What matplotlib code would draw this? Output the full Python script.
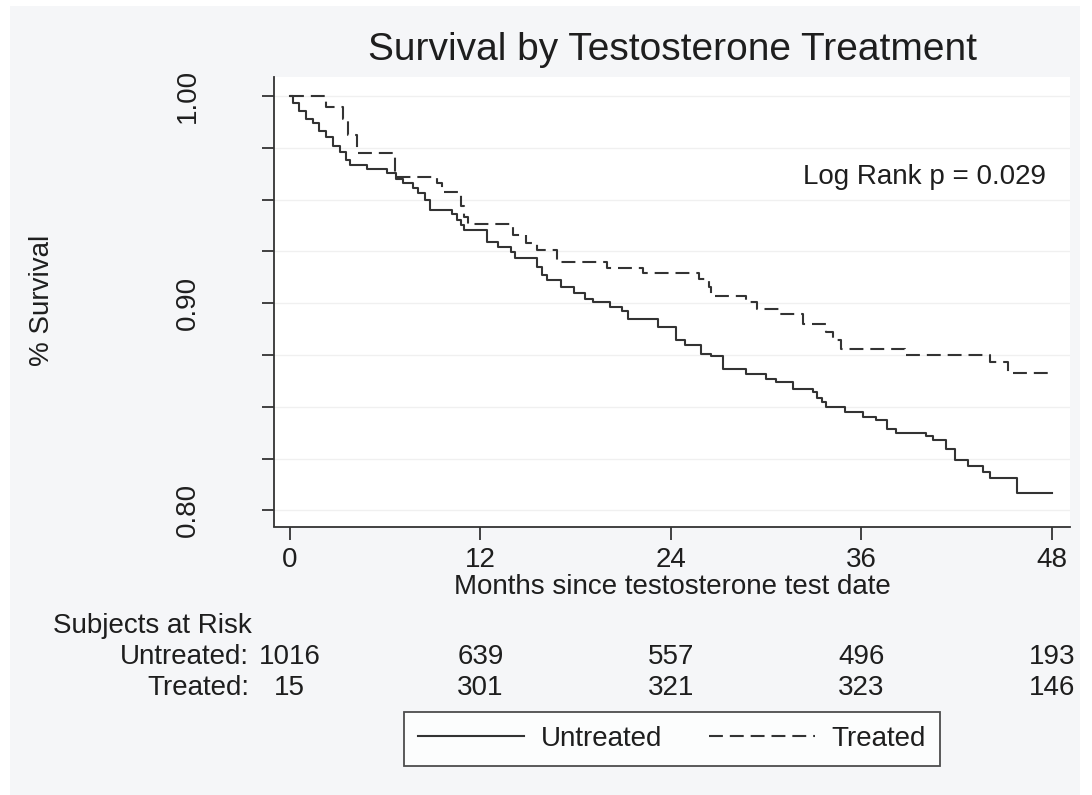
import numpy as np
import matplotlib
matplotlib.use("Agg")
import matplotlib.pyplot as plt
from matplotlib.patches import Rectangle

plt.rcParams['font.family'] = ['Liberation Sans', 'DejaVu Sans']
plt.rcParams['lines.scale_dashes'] = False

# Kaplan-Meier step data (time in months, survival after step)
untreated_t = [0, 0.2, 0.6, 1.0, 1.45, 1.85, 2.3, 2.7, 3.15, 3.55, 3.8, 4.85, 6.1, 6.7,
               7.1, 7.75, 8.05, 8.5, 8.8, 10.2, 10.5, 10.8, 11.0, 12.4, 13.1, 13.95,
               14.2, 15.6, 15.9, 16.2, 17.1, 17.9, 18.6, 19.1, 20.15, 20.9, 21.3, 23.2,
               24.35, 24.9, 25.9, 26.55, 27.3, 28.75, 30.0, 30.65, 31.7, 32.95, 33.2,
               33.5, 33.8, 34.95, 36.1, 36.95, 37.6, 38.2, 40.1, 40.5, 41.35, 41.9,
               42.75, 43.7, 44.1, 45.8, 48.0]
untreated_s = [1.0, 0.9966, 0.993, 0.989, 0.987, 0.983, 0.980, 0.976, 0.973, 0.969, 0.9667,
               0.9646, 0.9627, 0.960, 0.958, 0.9557, 0.953, 0.950, 0.945, 0.9433, 0.940,
               0.9377, 0.9353, 0.9297, 0.927, 0.9248, 0.9216, 0.9176, 0.9135, 0.911,
               0.908, 0.9047, 0.9022, 0.9005, 0.898, 0.896, 0.8926, 0.8883, 0.882, 0.880,
               0.8757, 0.8746, 0.8684, 0.8657, 0.8636, 0.862, 0.8587, 0.8572, 0.854,
               0.8524, 0.850, 0.8475, 0.845, 0.8435, 0.8394, 0.8375, 0.8357, 0.8338,
               0.8298, 0.8242, 0.8214, 0.8186, 0.8157, 0.8086, 0.8086]

treated_t = [0, 2.3, 3.35, 3.65, 4.2, 6.6, 9.25, 9.6, 10.8, 11.0, 11.2, 14.05, 14.9, 15.55,
             16.8, 20.0, 22.25, 25.8, 26.4, 26.55, 28.75, 29.4, 30.9, 32.3, 33.8, 34.2,
             34.7, 38.75, 44.1, 45.25, 48.0]
treated_s = [1.0, 0.9948, 0.989, 0.981, 0.9725, 0.961, 0.958, 0.9536, 0.947, 0.9415, 0.938,
             0.933, 0.929, 0.9256, 0.920, 0.917, 0.9145, 0.9115, 0.908, 0.9035, 0.9006,
             0.8974, 0.895, 0.8899, 0.8862, 0.882, 0.878, 0.8752, 0.8717, 0.8665, 0.8665]

# subjects at risk table
risk_times = [0, 12, 24, 36, 48]
risk_untreated = [1016, 639, 557, 496, 193]
risk_treated = [15, 301, 321, 323, 146]

W, H = 1092, 795
fig = plt.figure(figsize=(W / 100, H / 100), dpi=100)
fig.patch.set_facecolor('white')
fig.patches.append(Rectangle((10 / W, 0), 1070 / W, 789 / H, transform=fig.transFigure,
                             facecolor='#f5f6f8', edgecolor='none', zorder=-10))

# axes box in pixels: x 274..1070, y 77..526.5
ax = fig.add_axes([274 / W, (H - 526.5) / H, 796 / W, 449.5 / H])
ax.set_facecolor('white')
ax.set_xlim(-1.0, 49.15)
ax.set_ylim(0.7922, 1.0092)

line_col = '#333333'
txt_col = '#1e1e1e'
fs = 20

ax.step(untreated_t, untreated_s, where='post', color=line_col, lw=1.5, label='Untreated')
ax.step(treated_t, treated_s, where='post', color=line_col, lw=1.5,
        dashes=(10, 5), label='Treated')

for side in ['top', 'right']:
    ax.spines[side].set_visible(False)
for side in ['left', 'bottom']:
    ax.spines[side].set_color(line_col)
    ax.spines[side].set_linewidth(1.3)

ax.set_xticks(risk_times)
ax.set_yticks(np.arange(0.80, 1.001, 0.025))
ax.set_yticklabels(['0.80', '', '', '', '0.90', '', '', '', '1.00'])
ax.tick_params(axis='x', length=9, width=1.3, color=line_col, labelsize=fs,
               labelcolor=txt_col, pad=6)
ax.tick_params(axis='y', length=9, width=1.3, color=line_col, labelsize=fs,
               labelcolor=txt_col, pad=44)
for lab in ax.get_yticklabels():
    lab.set_rotation(90)
    lab.set_va('center')
ax.yaxis.grid(True, color='#f0f0f0', lw=1.0)
ax.set_axisbelow(True)

ax.set_xlabel('Months since testosterone test date', fontsize=fs, color=txt_col)
ax.xaxis.set_label_coords(0.5, (526.5 - 587) / 449.5)
ax.xaxis.label.set_va('center')
fig.text(42 / W, (H - 300) / H, '% Survival', rotation=90, ha='center', va='center',
         fontsize=fs, color=txt_col)

fig.text(672 / W, (H - 50) / H, 'Survival by Testosterone Treatment', ha='center',
         va='center', fontsize=28, color=txt_col)

ax.text(0.970, (526.5 - 177) / 449.5, 'Log Rank p = 0.029', transform=ax.transAxes,
        ha='right', va='center', fontsize=fs, color=txt_col)

# risk table below the axis
tr = ax.get_xaxis_transform()
def yfrac(p):
    return (526.5 - p) / 449.5

fig.text(53 / W, (H - 626) / H, 'Subjects at Risk', ha='left', va='center',
         fontsize=fs, color=txt_col)
fig.text(249 / W, (H - 657) / H, 'Untreated:', ha='right', va='center',
         fontsize=fs, color=txt_col)
fig.text(249 / W, (H - 688) / H, 'Treated:', ha='right', va='center',
         fontsize=fs, color=txt_col)
for t, u, tt in zip(risk_times, risk_untreated, risk_treated):
    ax.text(t, yfrac(657), str(u), transform=tr, ha='center', va='center',
            fontsize=fs, color=txt_col, clip_on=False)
    ax.text(t, yfrac(688), str(tt), transform=tr, ha='center', va='center',
            fontsize=fs, color=txt_col, clip_on=False)

leg = fig.legend(loc='upper center', bbox_to_anchor=(672 / W, (H - 712) / H), ncol=2,
                 fontsize=fs, frameon=True, fancybox=False, handlelength=3.8,
                 columnspacing=1.7, handletextpad=0.6, borderpad=0.5, borderaxespad=0)
leg.get_frame().set_edgecolor('#222222')
leg.get_frame().set_linewidth(1.3)
leg.get_frame().set_facecolor('white')
for t in leg.get_texts():
    t.set_color(txt_col)

fig.savefig('out.png', dpi=100, facecolor=fig.get_facecolor())
